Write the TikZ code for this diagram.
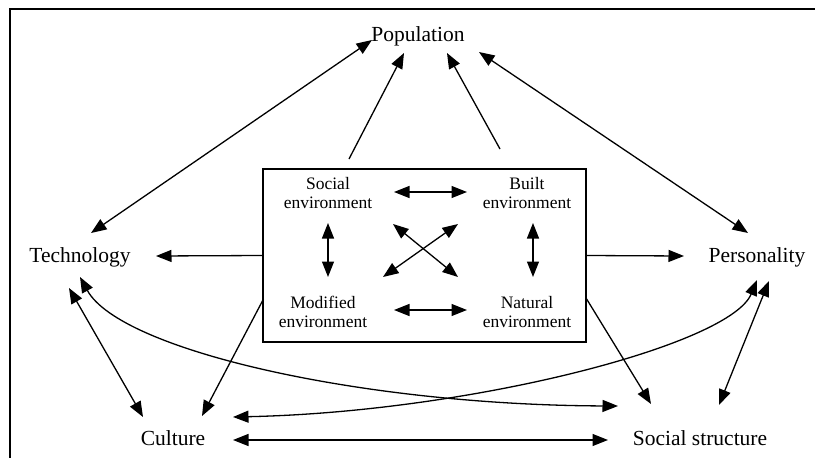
\documentclass[tikz,border=0pt]{standalone}
\usepackage{fontspec}
\setmainfont{Liberation Serif}
\usetikzlibrary{arrows.meta}
\begin{document}
\begin{tikzpicture}[x=1pt,y=-1pt,
  line width=1.3pt,
  head/.tip={Triangle[length=15.5pt,width=12pt]},
  onearrow/.style={-head},
  twoarrow/.style={head-head},
  outerlabel/.style={font=\fontsize{21.5}{23}\selectfont, inner sep=0pt},
  innerlabel/.style={font=\fontsize{17.5}{18.5}\selectfont, align=center, inner sep=0pt}]
\useasboundingbox (0,0) rectangle (815,458);
\fill[white] (0,0) rectangle (815,458);
\draw[line width=2pt] (9.5,458) -- (9.5,9) -- (815,9);

% outer factors
\node[outerlabel] (pop)  at (418,36)  {Population};
\node[outerlabel] (tech) at (80,257)  {Technology};
\node[outerlabel] (pers) at (757,257) {Personality};
\node[outerlabel] (cult) at (173,438) {Culture};
\node[outerlabel] (soc)  at (700,438) {Social structure};

% environment box
\node[draw, line width=1.4pt, minimum width=323pt, minimum height=173pt, inner sep=0pt] (box) at (424.5,255.5) {};
\node[innerlabel] (se) at (328,193) {Social\\environment};
\node[innerlabel] (be) at (527,193) {Built\\environment};
\node[innerlabel] (me) at (323,312) {Modified\\environment};
\node[innerlabel] (ne) at (527,312) {Natural\\environment};

% connector ends
\coordinate (h1a) at (394,192); \coordinate (h1b) at (467,192);
\coordinate (h2a) at (394,310); \coordinate (h2b) at (467,310);
\coordinate (v1a) at (328,223); \coordinate (v1b) at (328,277);
\coordinate (v2a) at (533,223); \coordinate (v2b) at (533,277);
\coordinate (d1a) at (393,224); \coordinate (d1b) at (458,277);
\coordinate (d2a) at (458,224); \coordinate (d2b) at (383,277);

\coordinate (popL)  at (372,40);  \coordinate (popR)  at (479,52);
\coordinate (popIL) at (404,53);  \coordinate (popIR) at (447,53);
\coordinate (boxTL) at (349,159); \coordinate (boxTR) at (500,149);
\coordinate (techT) at (91,233);  \coordinate (persT) at (748,233);
\coordinate (techE) at (156,256); \coordinate (persW) at (684,256);
\coordinate (techB) at (69,288);  \coordinate (cultT) at (143,417);
\coordinate (persB) at (769,281); \coordinate (socT)  at (719,405);
\coordinate (boxBL) at (263.5,299); \coordinate (cultR) at (202,416);
\coordinate (boxBR) at (586,298); \coordinate (socL)  at (651,404);
\coordinate (cultE) at (233,440); \coordinate (socW)  at (608,440);
\coordinate (techC) at (80,277);  \coordinate (socC)  at (618,406);
\coordinate (persC) at (757,280); \coordinate (cultC) at (233,417);

% links inside the box
\draw[twoarrow] (h1a) -- (h1b);
\draw[twoarrow] (h2a) -- (h2b);
\draw[twoarrow] (v1a) -- (v1b);
\draw[twoarrow] (v2a) -- (v2b);
\draw[twoarrow] (d1a) -- (d1b);
\draw[twoarrow] (d2a) -- (d2b);

% links to population
\draw[twoarrow] (techT) -- (popL);
\draw[twoarrow] (persT) -- (popR);
\draw[onearrow] (boxTL) -- (popIL);
\draw[onearrow] (boxTR) -- (popIR);

% box to side factors
\draw[onearrow] (box.west) -- (techE);
\draw[onearrow] (box.east) -- (persW);
\draw[onearrow] (boxBL) -- (cultR);
\draw[onearrow] (boxBR) -- (socL);

% links among outer factors
\draw[twoarrow] (techB) -- (cultT);
\draw[twoarrow] (persB) -- (socT);
\draw[twoarrow] (cultE) -- (socW);
\draw[twoarrow] (techC) .. controls (120,350) and (360,405) .. (socC);
\draw[twoarrow] (persC) .. controls (730,345) and (470,412) .. (cultC);
\end{tikzpicture}
\end{document}
